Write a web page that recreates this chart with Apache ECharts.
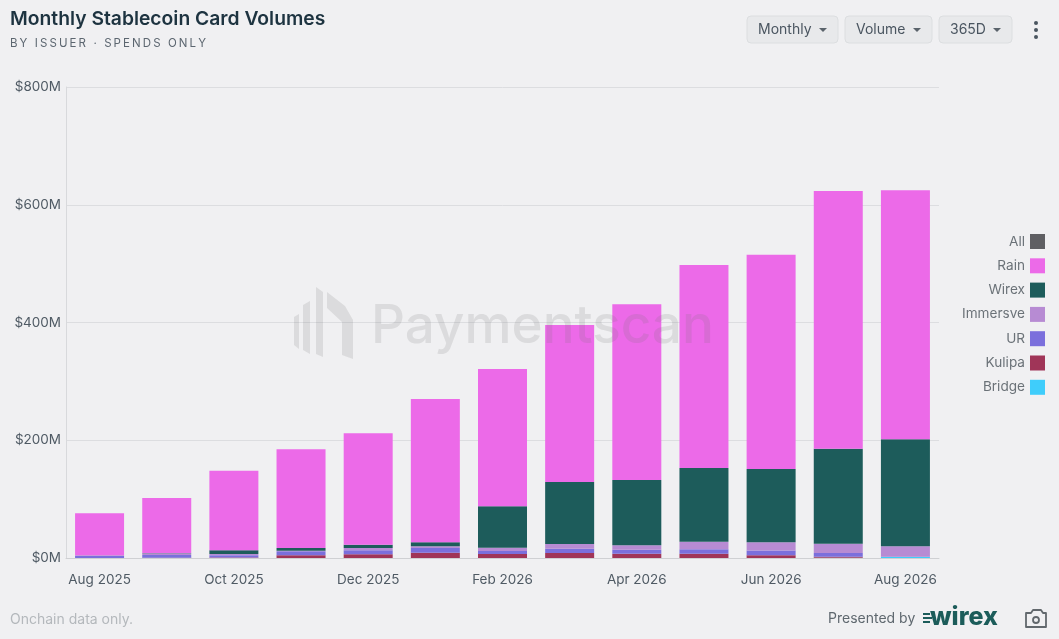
<!DOCTYPE html>
<html><head><meta charset="utf-8">
<style>html,body{margin:0;padding:0;background:#f0f0f2}#c{width:1059px;height:639px}</style>
<script src="https://cdn.jsdelivr.net/npm/echarts@6/dist/echarts.min.js"></script>
</head><body><div id="c"></div>
<script>
const categories=['Aug 2025','Sep 2025','Oct 2025','Nov 2025','Dec 2025','Jan 2026','Feb 2026','Mar 2026','Apr 2026','May 2026','Jun 2026','Jul 2026','Aug 2026'];
const bridge=[0,0,0,0,0,0,0,0,0,0,0,0.6,1.6];
const kulipa=[0,0.5,1,4.5,6.2,9,6.8,8.5,7.4,7.3,4.6,1.6,0];
const ur=[3.5,4.5,3.5,6.8,6.8,8,5,7.4,6.8,7.4,8,6.4,0.4];
const immersve=[1,3,2.5,1,4,3,5.7,8,7.4,13,14,15.8,17.8];
const wirex=[0,0.5,6,4.5,5.6,6.8,70.5,105,111,125,124.5,161,182];
const rain=[71.5,93.5,135,168,189.4,243.4,233,267,298.5,345,364,438,423];
const legendOrder=['All','Rain','Wirex','Immersve','UR','Kulipa','Bridge'];
const FONT='Inter, "Noto Sans", sans-serif';
const mk=(name,data,color)=>({name,type:'bar',stack:'t',data,barWidth:49,itemStyle:{color},emphasis:{disabled:true}});
function btn(x,w,label){
  return [
   {type:'rect',shape:{x:x,y:16,width:w,height:27,r:4},style:{fill:'#e8e9eb',stroke:'#dcdee0',lineWidth:1}},
   {type:'text',style:{x:x+11,y:29.5,text:label,font:'14px '+FONT,fill:'#4a5560',textVerticalAlign:'middle'}},
   {type:'polygon',shape:{points:[[x+w-19,28],[x+w-11,28],[x+w-15,32]]},style:{fill:'#5a636b'}}
  ];
}
const wm='rgba(110,110,115,0.16)';
const graphic=[
 {type:'text',style:{x:10,y:19.5,text:'Monthly Stablecoin Card Volumes',font:'600 19.3px '+FONT,fill:'#1d3340',textVerticalAlign:'middle'}},
 {type:'text',style:{x:10,y:44,text:'BY ISSUER · SPENDS ONLY'.split('').join('\u200a\u200a'),font:'11.5px '+FONT,fill:'#5c6670',textVerticalAlign:'middle'}},
 ...btn(747,91,'Monthly'),...btn(845,87,'Volume'),...btn(939,73,'365D'),
 {type:'circle',shape:{cx:1036,cy:23,r:2},style:{fill:'#4a5560'}},
 {type:'circle',shape:{cx:1036,cy:30,r:2},style:{fill:'#4a5560'}},
 {type:'circle',shape:{cx:1036,cy:37,r:2},style:{fill:'#4a5560'}},
 {type:'polygon',z:20,shape:{points:[[294,317],[299,314],[299,349],[294,345]]},style:{fill:wm}},
 {type:'polygon',z:20,shape:{points:[[303,305],[310,301],[310,354],[303,350]]},style:{fill:wm}},
 {type:'polygon',z:20,shape:{points:[[316,287],[323,292],[323,357],[316,354]]},style:{fill:wm}},
 {type:'polygon',z:20,shape:{points:[[327,292],[345,306],[353,320],[353,359],[342,355],[342,322],[327,308]]},style:{fill:wm}},
 {type:'text',z:20,style:{x:371,y:327,text:'Paymentscan',font:'500 53px '+FONT,fill:wm,textVerticalAlign:'middle'}},
 {type:'text',style:{x:10,y:620,text:'Onchain data only.',font:'14px '+FONT,fill:'#b4b8bc',textVerticalAlign:'middle'}},
 {type:'text',style:{x:828,y:619,text:'Presented by',font:'14px '+FONT,fill:'#5f686f',textVerticalAlign:'middle'}},
 {type:'rect',shape:{x:923,y:613,width:7,height:2},style:{fill:'#1c5c5a'}},
 {type:'rect',shape:{x:923,y:617,width:9,height:2},style:{fill:'#1c5c5a'}},
 {type:'rect',shape:{x:923,y:621,width:7,height:2},style:{fill:'#1c5c5a'}},
 {type:'text',style:{x:930,y:617,text:'wirex',font:'800 25px '+FONT,fill:'#1c5c5a',textVerticalAlign:'middle'}},
 {type:'polygon',shape:{points:[[1026,613],[1031,613],[1033,610],[1041,610],[1043,613],[1046,613],[1046,627],[1026,627]]},style:{fill:'none',stroke:'#62686d',lineWidth:1.8,lineJoin:'round'}},
 {type:'circle',shape:{cx:1036,cy:620,r:3},style:{fill:'none',stroke:'#62686d',lineWidth:1.8}}
];
const chart=echarts.init(document.getElementById('c'),null,{renderer:'canvas'});
chart.setOption({
 animation:false,backgroundColor:'#f0f0f2',
 grid:{left:66,right:120,top:87,bottom:81,containLabel:false},
 legend:{orient:'vertical',right:9,top:229,align:'right',itemWidth:15,itemHeight:15,itemGap:9.3,icon:'rect',data:legendOrder,
   selectedMode:false,textStyle:{fontFamily:FONT,fontSize:13.6,color:'#6b7278'}},
 xAxis:{type:'category',data:categories,axisTick:{show:false},
   axisLine:{lineStyle:{color:'#cfd0d3'}},
   axisLabel:{interval:1,margin:15,fontFamily:FONT,fontSize:13.5,color:'#4f5a64'}},
 yAxis:{type:'value',min:0,max:800,interval:200,
   axisLine:{show:true,lineStyle:{color:'#d8d9dc'}},axisTick:{show:false},
   splitLine:{lineStyle:{color:'#dcdde0'}},
   axisLabel:{margin:5,fontFamily:FONT,fontSize:13.5,color:'#4f5a64',formatter:v=>'$'+v+'M'}},
 series:[
  mk('All',[],'#5f5f63'),
  mk('Bridge',bridge,'#3fcdfb'),
  mk('Kulipa',kulipa,'#a03558'),
  mk('UR',ur,'#7b6fdc'),
  mk('Immersve',immersve,'#b78bd3'),
  mk('Wirex',wirex,'#1d5c5b'),
  mk('Rain',rain,'#ec6ae8')
 ],
 graphic
});
</script></body></html>
